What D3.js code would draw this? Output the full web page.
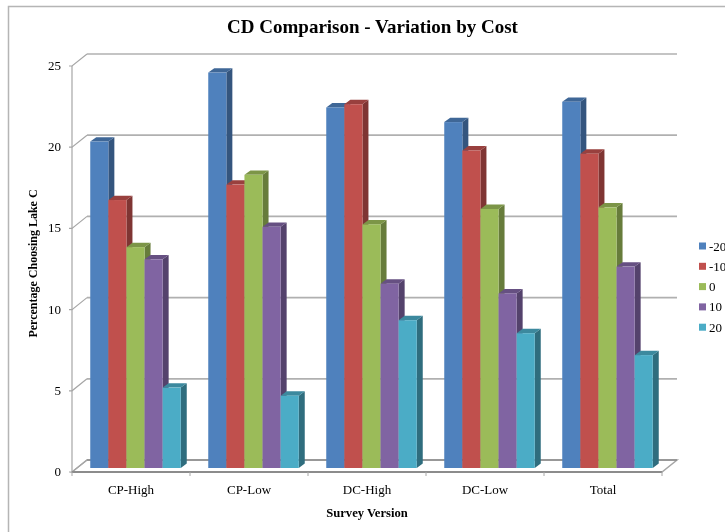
<!DOCTYPE html>
<html>
<head>
<meta charset="utf-8">
<script src="https://cdn.jsdelivr.net/npm/d3@7"></script>
<style>
html, body { margin: 0; padding: 0; background: #fff; overflow: hidden; }
svg { display: block; filter: blur(0.35px); }
text { font-family: "Liberation Serif", serif; fill: #000; }
</style>
</head>
<body>
<div id="chart"></div>
<script>
// Values
var categories = ['CP-High', 'CP-Low', 'DC-High', 'DC-Low', 'Total'];
var seriesNames = ['-20', '-10', '0', '10', '20'];
var valuesM20 = [20.1, 24.35, 22.2, 21.3, 22.55];
var valuesM10 = [16.5, 17.45, 22.4, 19.55, 19.35];
var values0 = [13.6, 18.05, 15.0, 15.95, 16.05];
var values10 = [12.85, 14.85, 11.35, 10.75, 12.4];
var values20 = [4.95, 4.45, 9.1, 8.3, 6.95];
var yTicks = [0, 5, 10, 15, 20, 25];

var allValues = [valuesM20, valuesM10, values0, values10, values20];
var frontColors = ['#4f81bd', '#c0504d', '#9bbb59', '#8064a2', '#4bacc6'];
var sideColors = ['#34557e', '#7f3533', '#677c3b', '#54426c', '#2f6d7e'];
var topColors = ['#3f6797', '#99403e', '#7c9547', '#665082', '#3c899e'];

var width = 725, height = 532;
var wallDx = 15, wallDy = -12;   // front axes to back wall
var barDx = 6, barDy = -4.4;     // depth of a bar
var baseDx = 4.5, baseDy = -4;   // front of the bars sits a bit behind the axes

var xScale = d3.scaleBand()
		.domain(categories)
		.range([72, 662]);

var groupScale = d3.scaleBand()
		.domain(seriesNames)
		.range([0, 90.5]);

var yScale = d3.scaleLinear()
		.domain([0, 25])
		.range([472, 66]);

var svg = d3.select('#chart').append('svg')
		.attr('width', width)
		.attr('height', height);

// Chart frame runs off the right and bottom of the picture
svg.append('path')
		.attr('d', 'M8.5,' + height + 'V6.5H' + width)
		.attr('fill', 'none')
		.attr('stroke', '#b5b5b5')
		.attr('stroke-width', 1.5);

svg.append('text')
		.attr('x', 372.5)
		.attr('y', 33)
		.attr('text-anchor', 'middle')
		.attr('font-size', 19)
		.attr('font-weight', 'bold')
		.text('CD Comparison - Variation by Cost');

// Walls and floor
var x0 = xScale.range()[0], x1 = xScale.range()[1];

svg.append('path')
		.attr('d', 'M' + x0 + ',' + yScale(0) + 'L' + (x0 + wallDx) + ',' + (yScale(0) + wallDy)
			+ 'H' + (x1 + wallDx) + 'L' + x1 + ',' + yScale(0) + 'Z')
		.attr('fill', '#fff')
		.attr('stroke', '#a6a6a6')
		.attr('stroke-width', 1.5);

svg.append('g').selectAll('line')
		.data(yTicks)
		.enter()
		.append('line')
		.attr('x1', x0 + wallDx)
		.attr('x2', x1 + wallDx)
		.attr('y1', d => yScale(d) + wallDy)
		.attr('y2', d => yScale(d) + wallDy)
		.attr('stroke', d => d === 0 ? '#8c8c8c' : '#b0b0b0')
		.attr('stroke-width', 1.7);

svg.append('g').selectAll('path')
		.data(yTicks)
		.enter()
		.append('path')
		.attr('d', d => 'M' + (x0 - 3) + ',' + yScale(d) + 'H' + x0
			+ 'L' + (x0 + wallDx) + ',' + (yScale(d) + wallDy))
		.attr('fill', 'none')
		.attr('stroke', '#a6a6a6')
		.attr('stroke-width', 1.2);

svg.append('line')
		.attr('x1', x0)
		.attr('x2', x0)
		.attr('y1', yScale(25))
		.attr('y2', yScale(0))
		.attr('stroke', '#a6a6a6')
		.attr('stroke-width', 1.2);

// Front axis
svg.append('line')
		.attr('x1', x0)
		.attr('x2', x1)
		.attr('y1', yScale(0))
		.attr('y2', yScale(0))
		.attr('stroke', '#8c8c8c')
		.attr('stroke-width', 2);

svg.append('g').selectAll('line')
		.data(categories.concat(['end']))
		.enter()
		.append('line')
		.attr('x1', (d, i) => x0 + i * xScale.step())
		.attr('x2', (d, i) => x0 + i * xScale.step())
		.attr('y1', yScale(0))
		.attr('y2', yScale(0) + 4)
		.attr('stroke', '#a6a6a6');

// Bars, drawn left to right so each one covers the side of the one before
var barBase = yScale(0) + baseDy;

function barLeft(catIndex, seriesIndex) {
	var inset = (xScale.step() - groupScale.range()[1]) / 2;
	return xScale(categories[catIndex]) + inset + baseDx + groupScale(seriesNames[seriesIndex]);
}

categories.forEach(function(cat, c) {
	var group = svg.append('g').attr('class', 'group');
	allValues.forEach(function(values, s) {
		var left = barLeft(c, s);
		var w = groupScale.bandwidth();
		var top = barBase - (yScale(0) - yScale(values[c]));
		// side
		group.append('path')
				.attr('d', 'M' + (left + w) + ',' + top + 'l' + barDx + ',' + barDy
					+ 'V' + (barBase + barDy) + 'l' + (-barDx) + ',' + (-barDy) + 'Z')
				.attr('fill', sideColors[s]);
		// top
		group.append('path')
				.attr('d', 'M' + left + ',' + top + 'l' + barDx + ',' + barDy
					+ 'h' + w + 'l' + (-barDx) + ',' + (-barDy) + 'Z')
				.attr('fill', topColors[s]);
		// front
		group.append('rect')
				.attr('x', left)
				.attr('y', top)
				.attr('width', w)
				.attr('height', barBase - top)
				.attr('fill', frontColors[s]);
	});
});

// Axis labels
svg.append('g').selectAll('text')
		.data(yTicks)
		.enter()
		.append('text')
		.attr('x', 61)
		.attr('y', d => yScale(d) + 4)
		.attr('text-anchor', 'end')
		.attr('font-size', 13)
		.text(d => d);

svg.append('g').selectAll('text')
		.data(categories)
		.enter()
		.append('text')
		.attr('x', d => xScale(d) + xScale.bandwidth() / 2)
		.attr('y', 494)
		.attr('text-anchor', 'middle')
		.attr('font-size', 13)
		.text(d => d);

svg.append('text')
		.attr('x', 367)
		.attr('y', 516.5)
		.attr('text-anchor', 'middle')
		.attr('font-size', 12.6)
		.attr('font-weight', 'bold')
		.text('Survey Version');

svg.append('text')
		.attr('transform', 'translate(37,263.5) rotate(-90)')
		.attr('text-anchor', 'middle')
		.attr('font-size', 12)
		.attr('font-weight', 'bold')
		.text('Percentage Choosing Lake C');

// Legend
var legend = svg.append('g').selectAll('g')
		.data(seriesNames)
		.enter()
		.append('g')
		.attr('transform', (d, i) => 'translate(699,' + (242.5 + i * 20.3) + ')');

legend.append('rect')
		.attr('y', 0)
		.attr('width', 7)
		.attr('height', 7)
		.attr('fill', (d, i) => frontColors[i]);

legend.append('text')
		.attr('x', 10)
		.attr('y', 8)
		.attr('font-size', 13)
		.text(d => d);
</script>
</body>
</html>
